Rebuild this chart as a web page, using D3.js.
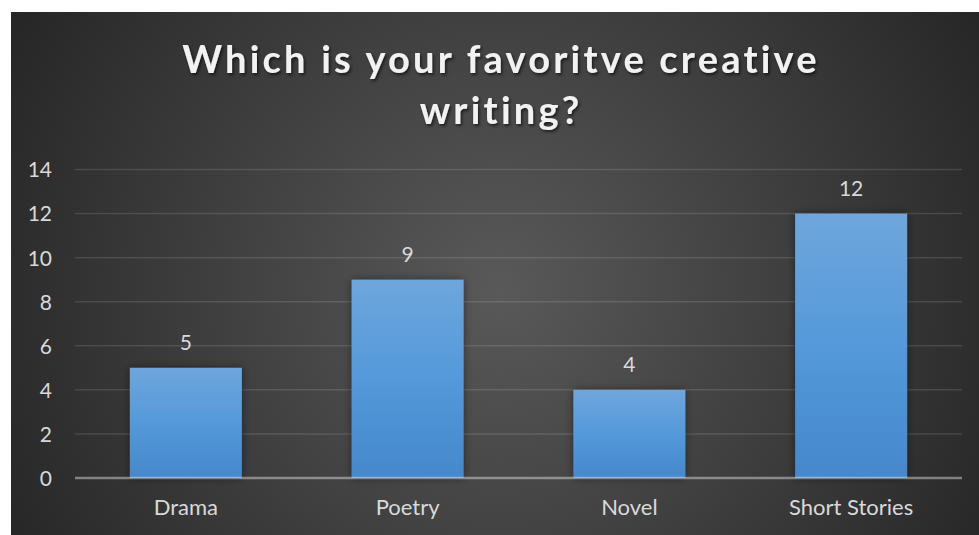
<!DOCTYPE html>
<html><head><meta charset="utf-8">
<script src="https://cdn.jsdelivr.net/npm/d3@7"></script>
<style>html,body{margin:0;padding:0;background:#fff;overflow:hidden}</style>
</head><body><svg id="c" width="979" height="535"></svg>
<script>
const categories = ["Drama", "Poetry", "Novel", "Short Stories"];
const values = [5, 9, 4, 12];
const yTicks = [0, 2, 4, 6, 8, 10, 12, 14];
const titleLines = ["Which is your favoritve creative", "writing?"];

const svg = d3.select("#c");
const W = 979, H = 535;
const defs = svg.append("defs");
const bg = defs.append("radialGradient").attr("id","bg").attr("gradientUnits","userSpaceOnUse")
  .attr("cx",500).attr("cy",290).attr("r",560);
bg.append("stop").attr("offset","0%").attr("stop-color","#595959");
bg.append("stop").attr("offset","100%").attr("stop-color","#262626");
const bar = defs.append("linearGradient").attr("id","bar").attr("x1",0).attr("y1",0).attr("x2",0).attr("y2",1);
bar.append("stop").attr("offset","0%").attr("stop-color","#6fa6dc");
bar.append("stop").attr("offset","50%").attr("stop-color","#5499da");
bar.append("stop").attr("offset","100%").attr("stop-color","#4588cb");
const sh = defs.append("filter").attr("id","sh").attr("x","-20%").attr("y","-20%").attr("width","140%").attr("height","140%");
sh.append("feDropShadow").attr("dx",0).attr("dy",0).attr("stdDeviation",4).attr("flood-color","#000").attr("flood-opacity",0.45);
const tsh = defs.append("filter").attr("id","tsh");
tsh.append("feDropShadow").attr("dx",1.5).attr("dy",2).attr("stdDeviation",1.5).attr("flood-color","#000").attr("flood-opacity",0.6);

svg.append("rect").attr("x",11).attr("y",12).attr("width",W-11).attr("height",H-12).attr("fill","url(#bg)");

const x = d3.scaleBand().domain(categories).range([75, 962]).paddingInner(0.495).paddingOuter(0.2475);
const y = d3.scaleLinear().domain([0, 14]).range([478, 169.5]);

// gridlines
svg.append("g").selectAll("line").data(yTicks.filter(d=>d>0)).join("line")
  .attr("x1",75).attr("x2",962).attr("y1",d=>y(d)).attr("y2",d=>y(d))
  .attr("stroke","#fff").attr("stroke-opacity",0.12).attr("stroke-width",1.5);

// y axis labels
const yAxis = d3.axisLeft(y).tickValues(yTicks).tickSize(0).tickPadding(0);
const ga = svg.append("g").attr("transform","translate(52,0)").call(yAxis);
ga.select(".domain").remove();
ga.selectAll("text").attr("font-family","Lato, 'Open Sans', sans-serif").attr("font-size",21)
  .attr("fill","#d9d9d9").attr("dy","0.35em");

// bars
svg.append("g").selectAll("rect").data(values).join("rect")
  .attr("x",(d,i)=>x(categories[i])).attr("width",x.bandwidth())
  .attr("y",d=>y(d)).attr("height",d=>y(0)-y(d))
  .attr("fill","url(#bar)").attr("filter","url(#sh)");

// x axis line
svg.append("line").attr("x1",75).attr("x2",962).attr("y1",y(0)).attr("y2",y(0))
  .attr("stroke","#fff").attr("stroke-opacity",0.4).attr("stroke-width",2.5);

// x axis labels
const xAxis = d3.axisBottom(x).tickSize(0).tickPadding(0);
const gx = svg.append("g").attr("transform",`translate(0,${y(0)})`).call(xAxis);
gx.select(".domain").remove();
gx.selectAll("text").attr("font-family","Lato, 'Open Sans', sans-serif").attr("font-size",22)
  .attr("fill","#d9d9d9").attr("dy",0).attr("y",37);

// data labels
svg.append("g").selectAll("text").data(values).join("text")
  .attr("x",(d,i)=>x(categories[i])+x.bandwidth()/2).attr("y",d=>y(d)-17.5)
  .attr("text-anchor","middle").attr("font-family","Lato, 'Open Sans', sans-serif")
  .attr("font-size",21).attr("fill","#d9d9d9").text(d=>d);

// title
svg.append("g").attr("filter","url(#tsh)").selectAll("text").data(titleLines).join("text")
  .attr("x",501).attr("y",(d,i)=>73+i*51).attr("text-anchor","middle")
  .attr("font-family","Lato, 'Open Sans', sans-serif").attr("font-weight","bold")
  .attr("font-size",38).attr("letter-spacing",3.2).attr("fill","#f2f2f2").text(d=>d);
</script></body></html>
